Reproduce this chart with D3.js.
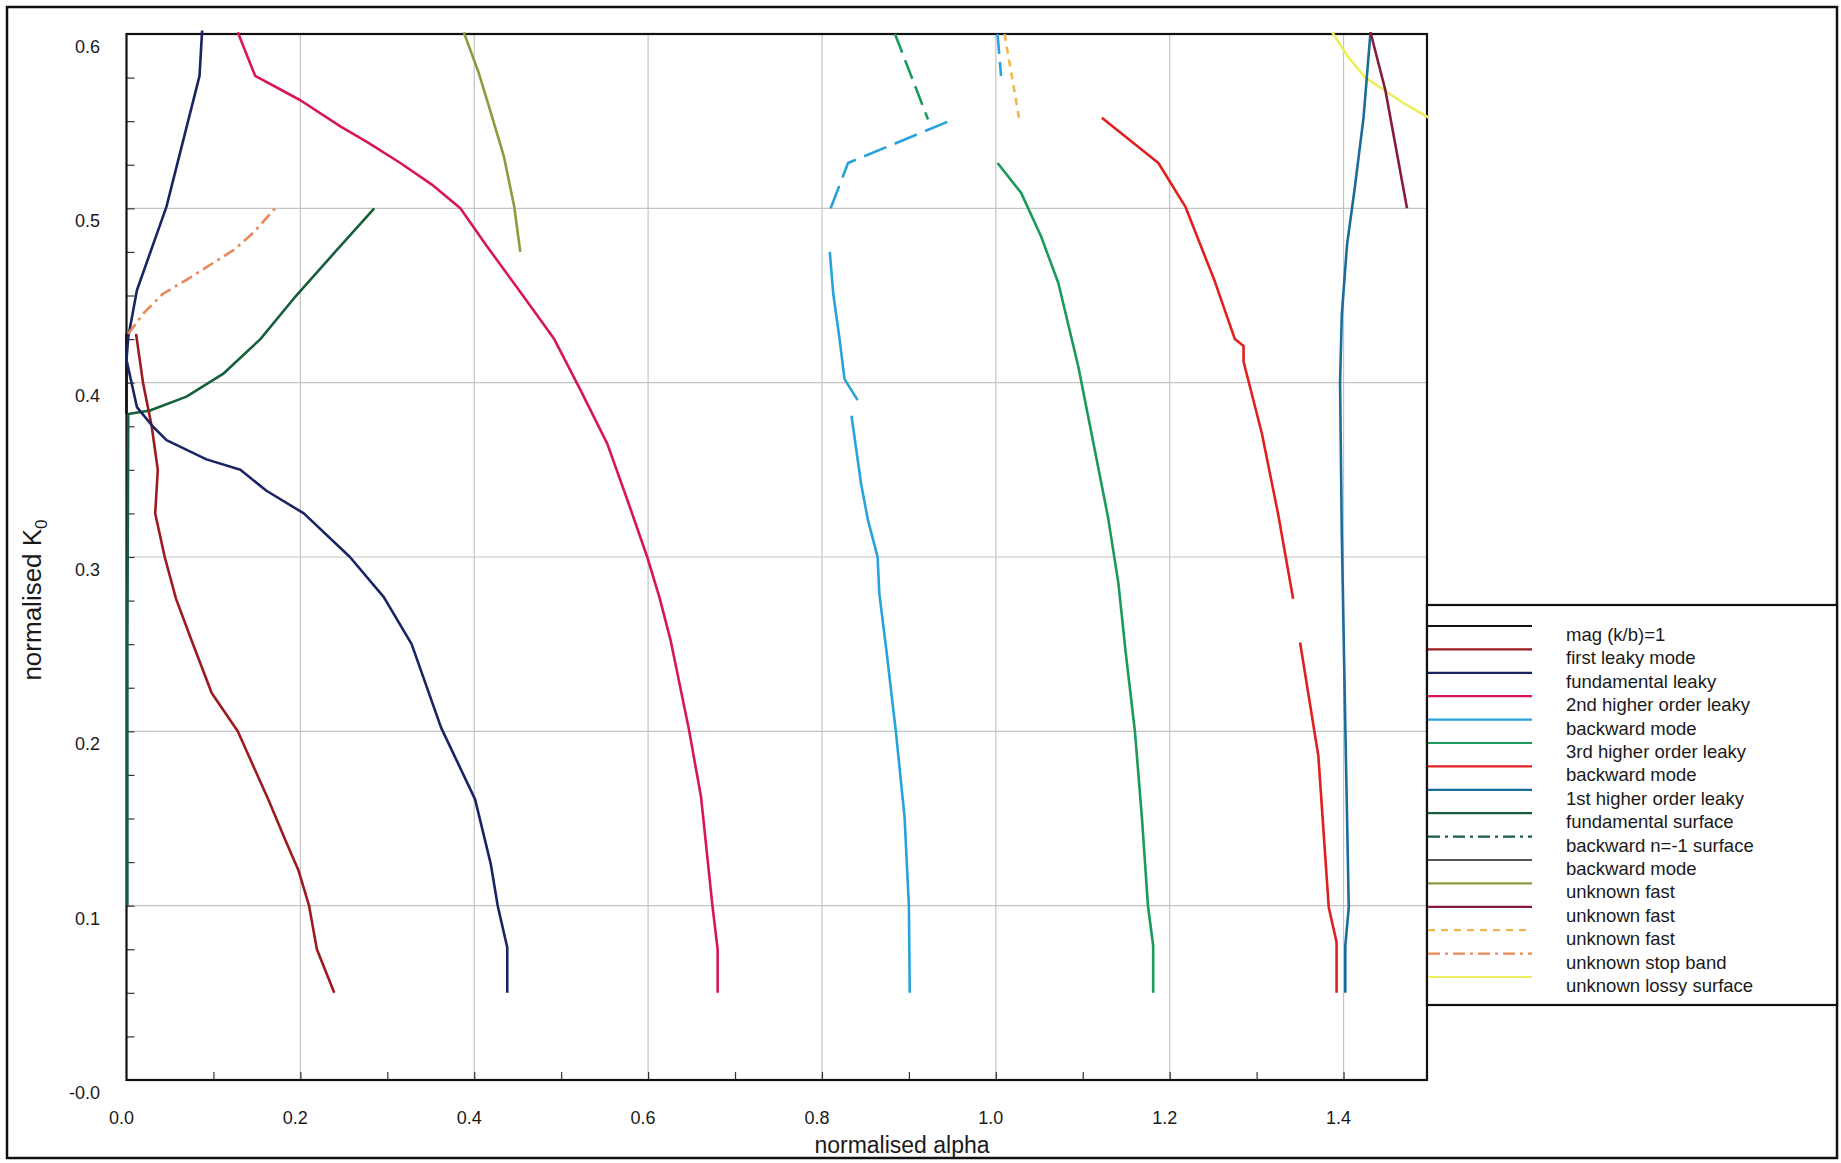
<!DOCTYPE html>
<html>
<head>
<meta charset="utf-8">
<script src="https://cdn.jsdelivr.net/npm/d3@7"></script>
<style>
  body { margin: 0; background: #fff; }
  text { font-family: "Liberation Sans", Arial, sans-serif; fill: #1a1a1a; }
</style>
</head>
<body>
<svg id="chart" width="1841" height="1163"></svg>
<script>
// mode curves, points are [normalised alpha, normalised K0]
const magLine = [[0.0, 0.382], [0.0, 0.428]];
const firstLeaky = [[0.011, 0.428], [0.019, 0.400], [0.029, 0.375], [0.036, 0.350], [0.033, 0.325],
  [0.044, 0.300], [0.057, 0.276], [0.075, 0.252], [0.098, 0.222], [0.128, 0.200], [0.163, 0.161],
  [0.185, 0.135], [0.198, 0.120], [0.210, 0.100], [0.219, 0.075], [0.239, 0.050]];
const fundamentalLeaky = [[0.087, 0.602], [0.084, 0.576], [0.046, 0.501], [0.012, 0.453], [0.002, 0.426],
  [0.0, 0.413], [0.012, 0.386], [0.030, 0.375], [0.046, 0.367], [0.092, 0.356], [0.131, 0.350],
  [0.161, 0.338], [0.204, 0.325], [0.257, 0.300], [0.296, 0.277], [0.328, 0.250], [0.362, 0.202],
  [0.401, 0.161], [0.419, 0.124], [0.427, 0.100], [0.438, 0.076], [0.438, 0.050]];
const secondLeaky = [[0.128, 0.601], [0.148, 0.576], [0.200, 0.562], [0.246, 0.547], [0.277, 0.538],
  [0.315, 0.526], [0.353, 0.513], [0.384, 0.500], [0.415, 0.478], [0.453, 0.452], [0.492, 0.425],
  [0.522, 0.396], [0.553, 0.365], [0.576, 0.333], [0.599, 0.300], [0.613, 0.277], [0.626, 0.252],
  [0.647, 0.201], [0.661, 0.162], [0.674, 0.100], [0.680, 0.075], [0.680, 0.050]];
const backwardBlueLow = [[0.901, 0.050], [0.900, 0.100], [0.895, 0.151], [0.885, 0.200], [0.874, 0.247],
  [0.866, 0.279], [0.864, 0.300], [0.853, 0.321], [0.845, 0.342], [0.834, 0.381]];
const backwardBlueMid = [[0.841, 0.390], [0.826, 0.402], [0.820, 0.426], [0.813, 0.451], [0.809, 0.475]];
const backwardBlueUpper = [[0.810, 0.500], [0.830, 0.526], [0.951, 0.551]];
const backwardBlueTop = [[1.002, 0.600], [1.006, 0.576]];
const thirdLeaky = [[1.002, 0.526], [1.029, 0.509], [1.052, 0.484], [1.072, 0.457], [1.095, 0.409],
  [1.114, 0.361], [1.129, 0.323], [1.141, 0.285], [1.149, 0.247], [1.160, 0.200], [1.168, 0.151],
  [1.175, 0.100], [1.181, 0.077], [1.181, 0.050]];
const thirdLeakyUpper = [[0.884, 0.600], [0.922, 0.551]];
const backwardRedUpper = [[1.122, 0.552], [1.187, 0.526], [1.218, 0.501], [1.252, 0.458], [1.275, 0.425],
  [1.285, 0.421], [1.285, 0.412], [1.306, 0.371], [1.325, 0.324], [1.342, 0.276]];
const backwardRedLower = [[1.350, 0.251], [1.371, 0.186], [1.383, 0.099], [1.392, 0.079], [1.392, 0.050]];
const firstHigher = [[1.431, 0.601], [1.423, 0.552], [1.413, 0.512], [1.404, 0.479], [1.398, 0.439],
  [1.396, 0.400], [1.398, 0.313], [1.402, 0.204], [1.406, 0.099], [1.402, 0.077], [1.402, 0.050]];
const fundamentalSurface = [[0.001, 0.100], [0.001, 0.250], [0.002, 0.382], [0.027, 0.384], [0.069, 0.392],
  [0.111, 0.405], [0.154, 0.425], [0.192, 0.448], [0.240, 0.475], [0.285, 0.500]];
const unknownFastOlive = [[0.388, 0.601], [0.405, 0.578], [0.419, 0.555], [0.434, 0.530], [0.446, 0.501], [0.453, 0.475]];
const unknownFastMaroon = [[1.431, 0.601], [1.448, 0.568], [1.473, 0.500]];
const unknownFastDashed = [[1.010, 0.600], [1.027, 0.551]];
const stopBand = [[0.002, 0.428], [0.020, 0.440], [0.042, 0.451], [0.069, 0.459], [0.123, 0.476],
  [0.146, 0.486], [0.171, 0.500]];
const lossySurface = [[1.387, 0.601], [1.405, 0.587], [1.425, 0.575], [1.446, 0.568], [1.470, 0.560], [1.498, 0.552]];

const xTickValues = [0, 0.2, 0.4, 0.6, 0.8, 1.0, 1.2, 1.4];
const xTickLabels = ["0.0", "0.2", "0.4", "0.6", "0.8", "1.0", "1.2", "1.4"];
const yTickValues = [0, 0.1, 0.2, 0.3, 0.4, 0.5, 0.6];
const yTickLabels = ["-0.0", "0.1", "0.2", "0.3", "0.4", "0.5", "0.6"];

const legendLabels = ["mag (k/b)=1", "first leaky mode", "fundamental leaky", "2nd higher order leaky",
  "backward mode", "3rd higher order leaky", "backward mode", "1st higher order leaky",
  "fundamental surface", "backward n=-1 surface", "backward mode", "unknown fast", "unknown fast",
  "unknown fast", "unknown stop band", "unknown lossy surface"];
const legendColors = ["#111111", "#9c1a20", "#1b2463", "#d8155a", "#28a2da", "#1a9a5c", "#e11f1f",
  "#1b6b9b", "#15603a", "#1b5c3c", "#555555", "#8d9b3c", "#861c3c", "#f3b64e", "#e8895a", "#eeee5c"];
const legendDash = [null, null, null, null, null, null, null, null, null, "12,5,3,5", null, null, null,
  "7,6", "12,5,3,5", null];

// which legend entry each drawn piece belongs to
const traces = [
  { data: magLine, key: 0 },
  { data: fundamentalSurface, key: 8 },
  { data: firstLeaky, key: 1 },
  { data: fundamentalLeaky, key: 2 },
  { data: secondLeaky, key: 3 },
  { data: backwardBlueLow, key: 4 },
  { data: backwardBlueMid, key: 4 },
  { data: backwardBlueUpper, key: 4, dash: "24,9" },
  { data: backwardBlueTop, key: 4, dash: "20,8" },
  { data: thirdLeaky, key: 5 },
  { data: thirdLeakyUpper, key: 5, dash: "20,8" },
  { data: backwardRedUpper, key: 6 },
  { data: backwardRedLower, key: 6 },
  { data: lossySurface, key: 15 },
  { data: firstHigher, key: 7 },
  { data: unknownFastOlive, key: 11 },
  { data: unknownFastMaroon, key: 12 },
  { data: unknownFastDashed, key: 13 },
  { data: stopBand, key: 14 },
];

const svg = d3.select("#chart");
const plot = { left: 126.5, right: 1427, top: 34, bottom: 1080 };

const x = d3.scaleLinear().domain([0, 1.496]).range([plot.left, plot.right]);
const y = d3.scaleLinear().domain([0, 0.6]).range([plot.bottom, plot.top]);

// outer frame
svg.append("rect")
  .attr("x", 7).attr("y", 7).attr("width", 1830).attr("height", 1151)
  .attr("fill", "#fff").attr("stroke", "#111").attr("stroke-width", 2.5);

// grid
const grid = svg.append("g").attr("stroke", "#c4c4c4").attr("stroke-width", 1.2);
grid.selectAll("line.v").data(xTickValues.filter((v) => v > 0)).enter().append("line")
  .attr("x1", (d) => x(d)).attr("x2", (d) => x(d))
  .attr("y1", plot.top).attr("y2", plot.bottom);
grid.selectAll("line.h").data(yTickValues.filter((v) => v > 0 && v < 0.6)).enter().append("line")
  .attr("y1", (d) => y(d)).attr("y2", (d) => y(d))
  .attr("x1", plot.left).attr("x2", plot.right);

// inward minor ticks
svg.append("g")
  .attr("transform", `translate(0,${plot.bottom})`)
  .call(d3.axisBottom(x).tickValues(d3.range(0.1, 1.45, 0.1)).tickSize(-8).tickFormat(""))
  .call((g) => g.select(".domain").remove())
  .selectAll("line").attr("stroke", "#333").attr("stroke-width", 1.2);
svg.append("g")
  .attr("transform", `translate(${plot.left},0)`)
  .call(d3.axisLeft(y).tickValues(d3.range(0.025, 0.6, 0.025)).tickSize(-8).tickFormat(""))
  .call((g) => g.select(".domain").remove())
  .selectAll("line").attr("stroke", "#333").attr("stroke-width", 1.2);

// plot frame
svg.append("rect")
  .attr("x", plot.left).attr("y", plot.top)
  .attr("width", plot.right - plot.left).attr("height", plot.bottom - plot.top)
  .attr("fill", "none").attr("stroke", "#111").attr("stroke-width", 2.2);

// curves, plain polylines like the original plot
const line = d3.line().x((d) => x(d[0])).y((d) => y(d[1]));
svg.append("g").selectAll("path").data(traces).enter().append("path")
  .attr("d", (d) => line(d.data))
  .attr("fill", "none")
  .attr("stroke", (d) => legendColors[d.key])
  .attr("stroke-width", 2.6)
  .attr("stroke-linejoin", "round")
  .attr("stroke-dasharray", (d) => d.dash || legendDash[d.key]);

// tick labels
svg.append("g").selectAll("text").data(xTickValues).enter().append("text")
  .attr("x", (d) => x(d) - 5).attr("y", 1124)
  .attr("text-anchor", "middle").attr("font-size", 18)
  .text((d, i) => xTickLabels[i]);
svg.append("g").selectAll("text").data(yTickValues).enter().append("text")
  .attr("x", 100).attr("y", (d) => y(d) + 19)
  .attr("text-anchor", "end").attr("font-size", 18)
  .text((d, i) => yTickLabels[i]);

// axis titles
svg.append("text")
  .attr("x", 902).attr("y", 1153).attr("text-anchor", "middle").attr("font-size", 23)
  .text("normalised alpha");
const yTitle = svg.append("text")
  .attr("transform", "translate(41,600) rotate(-90)")
  .attr("text-anchor", "middle").attr("font-size", 26);
yTitle.append("tspan").text("normalised K");
yTitle.append("tspan").attr("font-size", 17).attr("dy", 6).text("0");

// legend
const legend = svg.append("g");
legend.append("rect")
  .attr("x", 1427).attr("y", 605).attr("width", 410).attr("height", 400)
  .attr("fill", "#fff").attr("stroke", "#111").attr("stroke-width", 2.2);
const rows = legend.selectAll("g.row").data(legendLabels).enter().append("g")
  .attr("transform", (d, i) => `translate(0,${626 + i * 23.4})`);
rows.append("line")
  .attr("x1", 1428).attr("x2", 1532)
  .attr("stroke", (d, i) => legendColors[i])
  .attr("stroke-width", 2.2)
  .attr("stroke-dasharray", (d, i) => legendDash[i]);
rows.append("text")
  .attr("x", 1566).attr("y", 15).attr("font-size", 18.5)
  .text((d) => d);
</script>
</body>
</html>
